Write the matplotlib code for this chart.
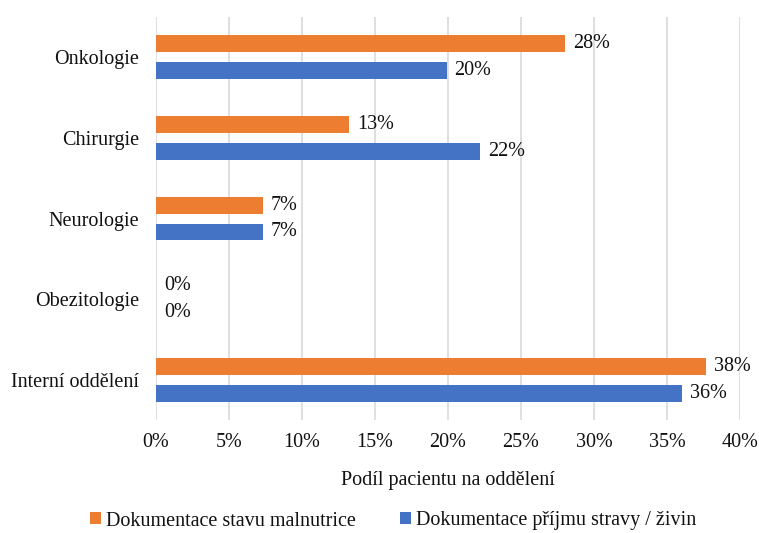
import matplotlib.pyplot as plt
import numpy as np
from matplotlib.ticker import FuncFormatter

# data (top to bottom as shown)
oddeleni = ['Onkologie', 'Chirurgie', 'Neurologie', 'Obezitologie', 'Interní oddělení']
malnutrice = [28.0, 13.2, 7.3, 0.0, 37.7]
prijem = [19.9, 22.2, 7.3, 0.0, 36.0]
xticks = [0, 5, 10, 15, 20, 25, 30, 35, 40]

plt.rcParams['font.family'] = ['Liberation Serif', 'DejaVu Serif']
fs = 14.5
tc = '#111111'

fig = plt.figure(figsize=(7.59, 5.33), dpi=100)
ax = fig.add_axes([0.2055, 0.212, 0.7695, 0.756])

y = np.arange(len(oddeleni))
h = 0.21
off = 0.167
b1 = ax.barh(y - off, malnutrice, height=h, color='#ED7D31', label='Dokumentace stavu malnutrice', zorder=3)
b2 = ax.barh(y + off, prijem, height=h, color='#4472C4', label='Dokumentace příjmu stravy / živin', zorder=3)

for bars, vals in ((b1, malnutrice), (b2, prijem)):
    for bar, v in zip(bars, vals):
        ax.text(v + 0.55, bar.get_y() + bar.get_height() / 2, f'{round(v):.0f}%',
                va='center', ha='left', fontsize=fs, color=tc)

ax.set_ylim(len(oddeleni) - 0.5, -0.5)
ax.set_xlim(0, 40)
ax.set_yticks(y)
ax.set_yticklabels(oddeleni, fontsize=fs, color=tc)
ax.set_xticks(xticks)
ax.xaxis.set_major_formatter(FuncFormatter(lambda v, p: f'{v:.0f}%'))
ax.tick_params(axis='x', labelsize=fs, colors=tc, length=0, pad=9)
ax.tick_params(axis='y', length=0, pad=12)
ax.grid(axis='x', color='#D9D9D9', linewidth=1.2, zorder=0)
for s in ax.spines.values():
    s.set_visible(False)

ax.set_xlabel('Podíl pacientu na oddělení', fontsize=fs, color=tc, labelpad=14)

fig.legend(loc='center', bbox_to_anchor=(0.518, 12 / 533), ncol=2, frameon=False,
           fontsize=fs, handlelength=0.55, handleheight=0.55, handletextpad=0.25,
           columnspacing=2.2, labelcolor=tc)

fig.savefig('out.png', dpi=100)
